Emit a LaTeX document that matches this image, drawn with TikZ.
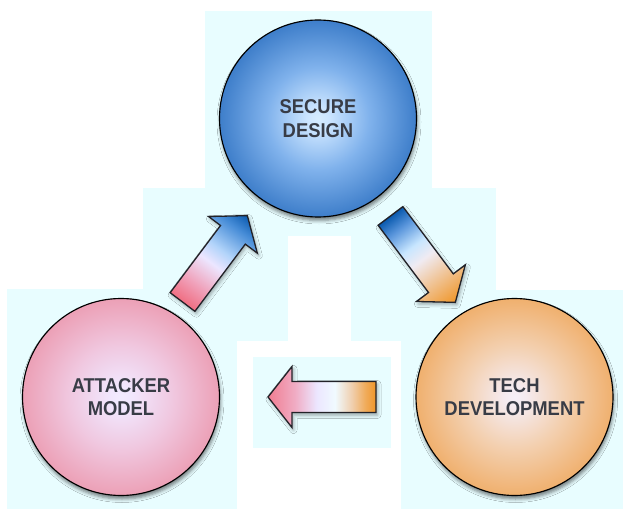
\documentclass[tikz,border=0pt]{standalone}
\usepackage{fontspec}
\newfontfamily\lblfont[UprightFont={* Bold}, FakeStretch=0.92]{Liberation Sans}
\usetikzlibrary{shadows.blur}

% panel and label colours
\definecolor{panel}{RGB}{232,253,255}
\definecolor{labelgray}{RGB}{56,60,70}
\definecolor{arrowline}{RGB}{34,34,40}

% ball shadings (the path's bounding box maps to the inner 25bp radius)
\pgfdeclareradialshading{ballblue}{\pgfpoint{0bp}{0bp}}{%
  color(0bp)=(rgb,255:red,214;green,236;blue,255);
  color(3bp)=(rgb,255:red,202;green,228;blue,255);
  color(13bp)=(rgb,255:red,128;green,178;blue,236);
  color(25bp)=(rgb,255:red,62;green,126;blue,202);
  color(50bp)=(rgb,255:red,62;green,126;blue,202)}
\pgfdeclareradialshading{ballpink}{\pgfpoint{0bp}{0bp}}{%
  color(0bp)=(rgb,255:red,242;green,236;blue,255);
  color(3bp)=(rgb,255:red,241;green,230;blue,253);
  color(13bp)=(rgb,255:red,240;green,200;blue,224);
  color(25bp)=(rgb,255:red,236;green,160;blue,182);
  color(50bp)=(rgb,255:red,236;green,160;blue,182)}
\pgfdeclareradialshading{ballorange}{\pgfpoint{0bp}{0bp}}{%
  color(0bp)=(rgb,255:red,246;green,240;blue,248);
  color(3bp)=(rgb,255:red,245;green,234;blue,238);
  color(13bp)=(rgb,255:red,243;green,208;blue,176);
  color(25bp)=(rgb,255:red,240;green,176;blue,110);
  color(50bp)=(rgb,255:red,240;green,176;blue,110)}

% arrow shadings, tail (25bp) to tip (75bp)
\pgfdeclarehorizontalshading{pinktoblue}{100bp}{%
  color(0bp)=(rgb,255:red,240;green,110;blue,130);
  color(25bp)=(rgb,255:red,240;green,110;blue,130);
  color(35bp)=(rgb,255:red,240;green,160;blue,185);
  color(47.5bp)=(rgb,255:red,236;green,230;blue,255);
  color(55bp)=(rgb,255:red,178;green,212;blue,250);
  color(67.5bp)=(rgb,255:red,70;green,140;blue,215);
  color(75bp)=(rgb,255:red,10;green,90;blue,175);
  color(100bp)=(rgb,255:red,10;green,90;blue,175)}
\pgfdeclarehorizontalshading{bluetoorange}{100bp}{%
  color(0bp)=(rgb,255:red,10;green,90;blue,175);
  color(25bp)=(rgb,255:red,10;green,90;blue,175);
  color(32.5bp)=(rgb,255:red,90;green,150;blue,220);
  color(42.5bp)=(rgb,255:red,200;green,230;blue,255);
  color(50bp)=(rgb,255:red,240;green,235;blue,242);
  color(60bp)=(rgb,255:red,240;green,200;blue,160);
  color(75bp)=(rgb,255:red,240;green,150;blue,40);
  color(100bp)=(rgb,255:red,240;green,150;blue,40)}
\pgfdeclarehorizontalshading{orangetopink}{100bp}{%
  color(0bp)=(rgb,255:red,240;green,150;blue,40);
  color(25bp)=(rgb,255:red,240;green,150;blue,40);
  color(30bp)=(rgb,255:red,240;green,172;blue,92);
  color(36bp)=(rgb,255:red,240;green,206;blue,172);
  color(44bp)=(rgb,255:red,240;green,250;blue,255);
  color(52.5bp)=(rgb,255:red,236;green,230;blue,255);
  color(62.5bp)=(rgb,255:red,240;green,172;blue,196);
  color(75bp)=(rgb,255:red,240;green,125;blue,145);
  color(100bp)=(rgb,255:red,240;green,125;blue,145)}

\tikzset{
  ball/.style={circle, draw=black, line width=1.15pt, minimum size=197pt,
    inner sep=0pt, align=center, text=labelgray,
    font=\lblfont\fontsize{20}{23.3}\selectfont,
    blur shadow={shadow xshift=1pt, shadow yshift=-3.5pt,
      shadow blur radius=3.5pt, shadow opacity=50}},
  arrowshadow/.style={fill=white,
    blur shadow={shadow xshift=1.5pt, shadow yshift=-2.5pt,
      shadow blur radius=3.5pt, shadow opacity=35}},
  arrowbody/.style={draw=arrowline, line width=1.3pt, line join=miter},
}

% block arrow: #1 tail point, #2 direction, #3 shading
\newcommand\blockarrow[3]{%
  \begin{scope}[shift={(#1)}, rotate=#2]
    \path[arrowshadow] (0,-15.5) -- (84,-15.5) -- (84,-30.5) -- (108,0)
      -- (84,30.5) -- (84,15.5) -- (0,15.5) -- cycle;
  \end{scope}
  \begin{scope}[transform canvas={shift={(#1)}, rotate=#2}]
    \shade[shading=#3, arrowbody] (0,-15.5) -- (84,-15.5) -- (84,-30.5) -- (108,0)
      -- (84,30.5) -- (84,15.5) -- (0,15.5) -- cycle;
  \end{scope}}

\begin{document}
\begin{tikzpicture}[x=1pt, y=-1pt]
\useasboundingbox (0,0) rectangle (623,510);

% light panels behind each element
\fill[panel] (205,11) rectangle (432,236);
\fill[panel] (143,188) rectangle (288,341);
\fill[panel] (351,188) rectangle (496,341);
\fill[panel] (7,289) rectangle (237,509);
\fill[panel] (401,290) rectangle (623,509);
\fill[panel] (253,357) rectangle (391,448);

% the three stages
\node[ball, shading=ballblue] (secure) at (318,118.5) {SECURE\\DESIGN};
\node[ball, shading=ballpink] (attacker) at (121,397) {ATTACKER\\MODEL};
\node[ball, shading=ballorange] (tech) at (514.5,397) {TECH\\DEVELOPMENT};

% arrow tails
\coordinate (upTail) at (182.5,302);
\coordinate (downTail) at (390.5,216);
\coordinate (leftTail) at (376,397);

\blockarrow{upTail}{53.1}{pinktoblue}
\blockarrow{downTail}{-53.1}{bluetoorange}
\blockarrow{leftTail}{180}{orangetopink}
\end{tikzpicture}
\end{document}
